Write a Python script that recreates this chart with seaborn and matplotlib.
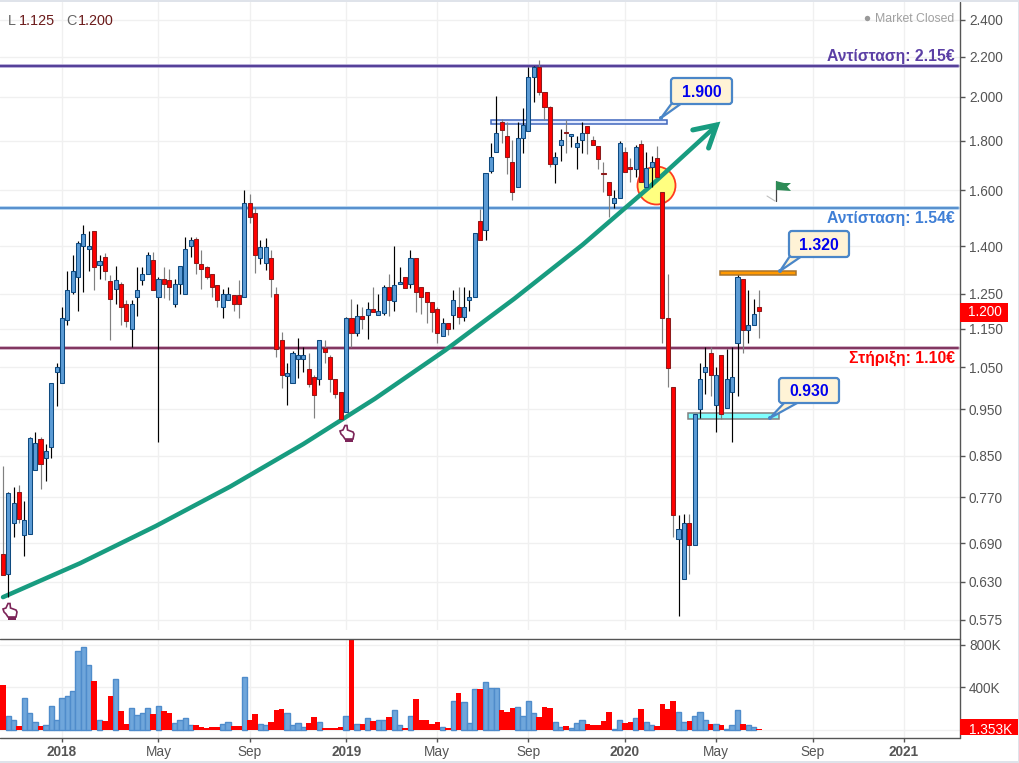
import numpy as np
import pandas as pd
import matplotlib
matplotlib.use("Agg")
import matplotlib.pyplot as plt
from matplotlib.patches import Rectangle, Circle, FancyBboxPatch, Polygon
from matplotlib.lines import Line2D
from matplotlib.transforms import Affine2D
import seaborn as sns

sns.set_theme(style="white")
plt.rcParams["font.family"] = ["Liberation Sans", "DejaVu Sans"]

first_week = -11
highs = [.829,.779,.789,.792,.763,.888,.900,.888,.874,1.011,
         1.060,1.212,1.320,1.371,1.418,1.472,1.451,1.451,1.371,1.378,
         1.308,1.336,1.286,1.232,1.232,1.333,1.333,1.381,1.381,1.301,
         1.333,1.326,1.295,1.336,1.431,1.431,1.431,1.387,1.336,1.311,
         1.277,1.264,1.270,1.246,1.292,1.601,1.586,1.537,1.421,1.428,
         1.387,1.270,1.142,1.060,1.091,1.126,1.101,1.086,1.030,1.120,
         1.120,1.081,1.020,.989,1.183,1.235,1.220,1.212,1.226,1.270,
         1.249,1.277,1.311,1.401,1.333,1.301,1.387,1.362,1.270,1.255,
         1.226,1.212,1.180,1.166,1.261,1.270,1.270,1.261,1.444,1.530,
         1.667,1.791,2.003,1.895,1.882,1.803,1.882,1.947,2.146,2.151,
         2.182,2.021,1.957,1.752,1.851,1.891,1.829,1.821,1.882,1.864,
         1.821,1.778,1.711,1.631,1.601,1.799,1.774,1.727,1.782,1.803,
         1.752,1.736,1.778,1.593,1.311,1.001,.738,.740,.740,.939,
         1.060,1.101,1.101,1.050,1.081,1.096,1.101,1.320,1.295,1.261,1.235,1.261]
opens = [.672,.641,.724,.779,.703,.705,.821,.884,.845,.867,
         1.037,1.011,1.174,1.255,1.301,1.401,1.391,1.451,1.339,1.365,
         1.289,1.264,1.280,1.220,1.150,1.241,1.292,1.311,1.355,1.241,
         1.295,1.292,1.220,1.280,1.249,1.401,1.424,1.342,1.333,1.311,
         1.277,1.212,1.232,1.246,1.246,1.241,1.552,1.516,1.362,1.345,
         1.362,1.249,1.120,1.028,1.011,1.070,1.070,1.045,1.025,1.020,
         1.099,1.075,1.020,.989,.943,1.180,1.139,1.186,1.189,1.206,
         1.189,1.194,1.270,1.229,1.280,1.301,1.280,1.362,1.270,1.255,
         1.226,1.206,1.131,1.166,1.189,1.212,1.183,1.232,1.241,1.486,
         1.455,1.675,1.752,1.882,1.821,1.711,1.612,1.812,1.843,2.095,
         2.146,2.021,1.952,1.703,1.782,1.838,1.821,1.774,1.803,1.864,
         1.803,1.778,1.667,1.631,1.552,1.570,1.752,1.691,1.683,1.787,
         1.612,1.691,1.727,1.593,1.180,1.001,.697,.634,.724,.687,
         .950,1.037,1.086,.959,1.081,.952,.989,1.112,1.295,1.147,1.161,1.212]
closes = [.640,.777,.760,.731,.729,.886,.876,.833,.859,1.011,
          1.050,1.180,1.261,1.320,1.411,1.441,1.401,1.333,1.352,1.320,
          1.235,1.292,1.212,1.172,1.220,1.261,1.311,1.371,1.261,1.295,
          1.280,1.270,1.280,1.336,1.391,1.421,1.345,1.326,1.301,1.270,
          1.232,1.249,1.249,1.220,1.220,1.552,1.501,1.371,1.397,1.397,
          1.295,1.096,1.030,1.035,1.086,1.081,1.081,1.008,.982,1.120,
          1.088,1.020,.985,.928,1.180,1.139,1.186,1.177,1.206,1.197,
          1.200,1.270,1.232,1.277,1.286,1.267,1.362,1.255,1.241,1.226,
          1.197,1.139,1.166,1.150,1.232,1.183,1.212,1.241,1.444,1.421,
          1.667,1.731,1.834,1.847,1.731,1.593,1.812,1.869,2.095,2.146,
          2.021,1.952,1.703,1.731,1.803,1.834,1.829,1.791,1.834,1.834,
          1.782,1.723,1.663,1.582,1.570,1.791,1.671,1.683,1.774,1.631,
          1.687,1.711,1.651,1.180,1.047,.738,.714,.724,.687,.939,
          1.020,1.050,1.030,1.030,.939,1.020,1.025,1.301,1.147,1.161,1.192,1.200]
lows = [.640,.607,.700,.724,.669,.705,.821,.785,.800,.845,
        .957,1.011,1.161,1.249,1.200,1.255,1.320,1.261,1.295,1.292,
        1.120,1.220,1.161,1.155,1.101,1.186,1.277,1.311,1.261,.878,
        1.238,1.232,1.212,1.249,1.249,1.365,1.311,1.264,1.295,1.241,
        1.212,1.180,1.232,1.200,1.180,1.241,1.479,1.314,1.342,1.323,
        1.241,1.075,.999,.959,1.011,1.023,1.037,1.001,.930,1.006,
        1.060,.989,.975,.928,.943,1.101,1.131,1.150,1.123,1.197,
        1.189,1.189,1.186,1.200,1.280,1.267,1.267,1.197,1.192,1.166,
        1.142,1.112,1.131,1.134,1.150,1.164,1.172,1.200,1.241,1.421,
        1.421,1.667,1.752,1.791,1.663,1.563,1.612,1.748,1.843,1.975,
        2.007,1.891,1.691,1.627,1.715,1.748,1.774,1.683,1.748,1.744,
        1.782,1.683,1.593,1.501,1.533,1.570,1.671,1.631,1.651,1.631,
        1.612,1.612,1.651,1.112,1.001,.700,.581,.634,.641,.687,
        .930,.985,.980,.900,.928,.952,.878,.980,1.086,1.112,1.161,1.126]

# one extra bar at the left edge (week -12)
volumes_k = [900,
             417,132,85,31,301,151,75,31,47,226,
             94,301,320,358,743,781,612,455,94,78,
             314,480,173,50,207,141,151,198,144,226,
             173,154,66,85,113,38,41,22,13,22,
             22,56,75,31,31,499,94,144,56,38,
             69,182,191,151,38,66,28,60,116,75,
             13,13,13,22,132,900,56,50,113,78,
             94,85,116,188,47,13,132,285,88,88,
             50,69,28,13,273,342,263,66,380,380,
             452,395,395,182,163,201,216,132,273,151,
             116,210,201,75,28,31,19,66,94,50,
             41,41,78,163,9,85,60,69,113,191,
             75,47,31,238,191,267,169,75,78,132,
             169,85,50,56,41,9,38,188,50,38,28,1.353]

price_ticks = [2.4,2.2,2.0,1.8,1.6,1.4,1.25,1.15,1.05,.95,.85,.77,.69,.63,.575]
price_tick_labels = ["2.400","2.200","2.000","1.800","1.600","1.400","1.250","1.150","1.050","0.950","0.850","0.770","0.690","0.630","0.575"]
date_ticks = [0,18,35,53,70,87,105,122,140,157]
date_labels = ["2018","May","Sep","2019","May","Sep","2020","May","Sep","2021"]
bold_dates = {"2018","2019","2020","2021"}
vol_ticks = [400,800]
vol_labels = ["400K","800K"]

trend_week = [-11.0,3.37,17.5,31.4,45.0,58.4,71.5,84.4,97.1,109.4,121.6,122.1]
trend_price = [.607,.658,.719,.790,.874,.974,1.093,1.236,1.405,1.609,1.856,1.869]
head_week = [117.66,122.1,120.6]
head_price = [1.847,1.869,1.769]
levels = [(2.15,"#46308f","#a79bd0","Αντίσταση: 2.15€","#5b3fa5",57),
          (1.535,"#4a86c8","#a9cdee","Αντίσταση: 1.54€","#3f7fd6",218.5),
          (1.10,"#74224f","#c9a3bb","Στήριξη: 1.10€","#ff0000",358)]

W, H = 1020, 763
fig = plt.figure(figsize=(W/100, H/100), dpi=100, facecolor="white")
ax = fig.add_axes([0, (H-630)/H, 960/W, 628/H])
vx = fig.add_axes([0, (H-737.5)/H, 960/W, 98.5/H], sharex=ax)
PX = Affine2D().scale(1, -1).translate(0, H)   # reference pixel frame for callouts

GRID = "#f0f0f0"
AXC = "#555555"
weeks = np.arange(first_week, first_week + len(opens))
up = np.array(closes) > np.array(opens)

df = pd.DataFrame({"week": np.arange(first_week-1, first_week-1+len(volumes_k)),
                   "vol": volumes_k,
                   "up": np.r_[False, up]})
sns.barplot(data=df[df.up], x="week", y="vol", native_scale=True, width=1.0,
            color="#6fa6db", saturation=1, edgecolor="#4f8ccb", linewidth=1.0, ax=vx)
sns.barplot(data=df[~df.up], x="week", y="vol", native_scale=True, width=1.0,
            color="#ff0000", saturation=1, edgecolor="none", linewidth=0, ax=vx)

ax.set_yscale("log")
ax.set_ylim(0.5613, 2.505)
vx.set_ylim(-75, 852)
vx.set_xlim(-11.56, 167.5)

ax.set_yticks(price_ticks, price_tick_labels)
ax.minorticks_off()
vx.set_yticks(vol_ticks, vol_labels)
vx.set_xticks(date_ticks, date_labels)
for a in (ax, vx):
    a.yaxis.tick_right()
    a.set_xlabel(""); a.set_ylabel("")
    a.grid(True, color=GRID, lw=1.0)
    a.set_axisbelow(True)
    for s in a.spines.values():
        s.set_visible(False)
    a.tick_params(axis="y", length=3.6, width=1, color=AXC, labelcolor=AXC, labelsize=9.8, pad=2.8, right=True)
ax.tick_params(axis="x", length=0, labelbottom=False)
vx.tick_params(axis="x", length=3, width=1, color=AXC, labelcolor=AXC, labelsize=9.8, pad=2.6, bottom=True)
vx.axhline(0, color=GRID, lw=1.0, zorder=0)
for t in vx.get_xticklabels():
    if t.get_text() in bold_dates:
        t.set_fontweight("bold")

for price, dark, light, label, tcol, ty in levels:
    ax.axhline(price, color=light, lw=2.6, zorder=1.5, xmax=958/960)
    ax.axhline(price, color=dark, lw=1.2, zorder=1.6, xmax=958/960)
    ax.text(955, ty, label, transform=PX, ha="right", va="center", color=tcol,
            fontsize=11.3, fontweight="bold", zorder=8)

# highlight circle under the candles
ax.add_patch(Circle((656.5, 185.5), 19, transform=PX, fc="#ffff80", ec="#ff3b1f", lw=1.3, zorder=1.8, clip_on=False))

# trend arrow
sns.lineplot(x=trend_week, y=trend_price, sort=False, estimator=None, color="#189c80", lw=3.2, ax=ax, zorder=1.9,
             legend=False, solid_joinstyle="round")
sns.lineplot(x=head_week, y=head_price, sort=False, estimator=None, color="#189c80", lw=3.6, ax=ax, zorder=1.9,
             legend=False, solid_joinstyle="miter")
ax.set_xlabel(""); ax.set_ylabel("")

# candles
for i, w in enumerate(weeks):
    o, c, hi, lo = opens[i], closes[i], highs[i], lows[i]
    is_up = c > o
    ax.vlines(w, lo, hi, color="black" if is_up else "#808080", lw=0.85, zorder=3+i*0.001)
    ax.bar(w, abs(c-o), bottom=min(o, c), width=0.76,
           color="#5b9bd5" if is_up else "#ff0000",
           edgecolor="#0e4a80" if is_up else "#8e1b1b", linewidth=0.75, zorder=3.0005+i*0.001)

# level bars with callouts
def bar(x0, y0, x1, y1, fc, ec, z=2.5):
    ax.add_patch(Rectangle((x0, y0), x1-x0, y1-y0, transform=PX, fc=fc, ec=ec, lw=1.1, zorder=z, clip_on=False))
bar(491, 120, 667, 124, "#e3ebff", "#3f66bd")
bar(720, 271, 796, 275, "#ff9900", "#a8742e", 3.5)
bar(688, 413, 779, 419, "#7fffff", "#808080", 2.5)

def callout(x0, y0, x1, y1, tail, txt):
    tx, ty, bx0, bx1 = tail
    ax.add_patch(Polygon([(bx0, y1-1), (tx, ty), (bx1, y1-1)], closed=True, transform=PX, fc="#fff3d6", ec="#4a86c8", lw=1.6, zorder=9, clip_on=False))
    ax.add_patch(FancyBboxPatch((x0+3, y0+3), x1-x0-6, y1-y0-6, boxstyle="round,pad=3,rounding_size=3", transform=PX,
                                fc="#fff3d6", ec="#4a86c8", lw=1.6, zorder=9.1, clip_on=False))
    ax.text((x0+x1)/2, (y0+y1)/2, txt, transform=PX, color="#0000ee", fontsize=11.3, fontweight="bold",
            ha="center", va="center_baseline", zorder=10)
    ax.add_patch(Circle((tx, ty), 2, transform=PX, fc="#4a86c8", ec="none", zorder=9.2, clip_on=False))
callout(671, 78, 732, 104, (661, 118, 672, 682), "1.900")
callout(789, 231, 849, 257, (780, 271, 790, 802), "1.320")
callout(779, 378, 839, 403, (770, 418, 785, 799), "0.930")

# pointing hands
def hand(x, y):
    pts = [(1,6),(4,5),(6,0.5),(8,0.5),(8.5,5),(14,7),(15,9),(14,14),(6,14),(4,11),(2,9)]
    ax.add_patch(Polygon([(x+a, y+b) for a, b in pts], closed=True, transform=PX, fc="white", ec="#7c2458", lw=1.2, zorder=7, clip_on=False))
    ax.add_patch(Rectangle((x+6, y+14), 8, 3, transform=PX, fc="#7c2458", ec="none", zorder=7, clip_on=False))
hand(2, 603)
hand(339, 425)

# flag
ax.add_line(Line2D([767, 775], [196, 201], transform=PX, color="#c0c0c0", lw=0.8, zorder=6))
ax.add_line(Line2D([775.5, 775.5], [181, 201], transform=PX, color="#444444", lw=0.9, zorder=6))
ax.add_patch(Polygon([(776,181),(784,183),(791,183),(787,186.5),(791,191),(776,190)], closed=True, transform=PX, fc="#2e8b57", ec="none", zorder=6))

# frame, tags and header text live on the figure
def fline(xs, ys, col, lw):
    fig.add_artist(Line2D(xs, ys, transform=PX, color=col, lw=lw, zorder=20))
fline([0, 960], [639, 639], AXC, 1.0)
fline([0, 960], [737.5, 737.5], AXC, 1.0)
fline([960, 960], [2, 737.5], AXC, 1.0)
fig.add_artist(Rectangle((0, 0), W, 1.5, transform=PX, fc="#dfe3ea", ec="none", zorder=21))
fig.add_artist(Rectangle((1017.5, 0), 2.5, H, transform=PX, fc="#dfe3ea", ec="none", zorder=21))
fig.add_artist(Rectangle((0, 761), W, 2, transform=PX, fc="#dfe3ea", ec="none", zorder=21))

fig.add_artist(Rectangle((960, 303), 48, 19, transform=PX, fc="#ff0000", ec="none", zorder=22))
fig.text(968, 312.5, "1.200", transform=PX, color="white", fontsize=9.8, va="center", zorder=23)
fig.add_artist(Rectangle((960, 719), 57.5, 16, transform=PX, fc="#ff0000", ec="none", zorder=22))
fig.text(969, 730, "1.353K", transform=PX, color="white", fontsize=9.8, va="center", zorder=23)

fig.add_artist(Circle((867.5, 18.5), 2.7, transform=PX, fc="#999999", ec="none", zorder=22))
fig.text(875, 18.5, "Market Closed", transform=PX, color="#a0a0a0", fontsize=8.8, va="center", zorder=23)
for x, s, col in [(8, "L", "#666666"), (19, "1.125", "#6b1a1a"), (66, "C", "#666666"), (78, "1.200", "#6b1a1a")]:
    fig.text(x, 21, s, transform=PX, color=col, fontsize=10.4, va="center", zorder=23)

fig.savefig("out.png", dpi=100)
